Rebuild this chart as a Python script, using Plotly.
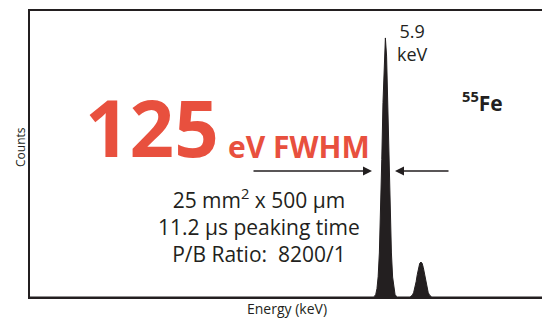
import plotly.graph_objects as go

# Spectrum (energy in keV, counts normalised to the 5.9 keV peak = 100)
energy_kev = [0.00, 5.70, 5.72, 5.74, 5.76, 5.78, 5.80, 5.82, 5.84, 5.86, 5.88, 5.90,
              5.92, 5.94, 5.96, 5.98, 6.00, 6.02, 6.04, 6.06, 6.08, 6.10,
              6.31, 6.33, 6.35, 6.37, 6.39, 6.41, 6.43, 6.45, 6.47, 6.49,
              6.51, 6.53, 6.55, 6.57, 6.59, 6.61, 6.63, 6.65, 6.67, 8.50]
counts = [0.0, 0.0, 0.3, 1.0, 3.2, 7.9, 17.0, 32.0, 53.0, 75.0, 93.0, 100.0,
          93.0, 75.0, 53.0, 32.0, 17.0, 7.7, 3.0, 1.0, 0.3, 0.0,
          0.0, 0.3, 0.8, 1.8, 3.5, 5.9, 8.7, 11.3, 13.0, 13.5,
          13.0, 11.3, 8.7, 5.9, 3.5, 1.8, 0.8, 0.3, 0.0, 0.0]

x_range = [0.0, 8.5]
y_range = [0.0, 110.4]

DARK = "#231f20"
RED = "#e8503e"
FONT = "Open Sans"

fig = go.Figure()
fig.add_trace(go.Scatter(
    x=energy_kev, y=counts, mode="lines",
    line=dict(color=DARK, width=1),
    fill="tozeroy", fillcolor=DARK,
    hoverinfo="skip", showlegend=False,
))

fig.update_layout(
    width=542, height=321,
    margin=dict(l=30, r=0, t=11, b=24),
    paper_bgcolor="white", plot_bgcolor="white",
    showlegend=False,
    font=dict(family=FONT, color=DARK),
    xaxis=dict(range=x_range, showline=True, mirror=True, linecolor=DARK, linewidth=2,
               showgrid=False, zeroline=False, showticklabels=False, ticks=""),
    yaxis=dict(range=y_range, showline=True, mirror=False, linecolor=DARK, linewidth=2,
               showgrid=False, zeroline=False, showticklabels=False, ticks=""),
)

PW, PH = 512, 286
def px(xp):
    return (xp - 30) / PW
def py(yp):
    return (297 - yp) / PH

def label(text, xc, yc, size, bold=False, color=DARK, **kw):
    fig.add_annotation(text=f"<b>{text}</b>" if bold else text, x=px(xc), y=py(yc),
                       xref="paper", yref="paper", showarrow=False,
                       xanchor=kw.pop("xanchor", "center"), yanchor=kw.pop("yanchor", "middle"),
                       font=dict(size=size, color=color, family=FONT), **kw)

label("Counts", 20, 147, 12, textangle=-90)
label("Energy (keV)", 287, 308, 14)

label("125", 221, 158, 78, bold=True, color=RED, xanchor="right", yanchor="bottom", yshift=-24)
label("eV FWHM", 226, 158, 30, bold=True, color=RED, xanchor="left", yanchor="bottom", yshift=-11)

label("25 mm<sup>2</sup> x 500 µm<br>11.2 µs peaking time<br>P/B Ratio:  8200/1", 259, 225, 21,
      align="center")

label("5.9<br>keV", 412, 42, 18, align="center")
label("<sup>55</sup>Fe", 482, 101, 21, bold=True)

# arrows pointing at the peak width
fig.add_annotation(x=px(372), y=py(171), ax=-120, ay=0, xref="paper", yref="paper",
                   axref="pixel", ayref="pixel", text="", showarrow=True, arrowhead=2,
                   arrowsize=1.2, arrowwidth=1.5, arrowcolor=DARK)
fig.add_annotation(x=px(395), y=py(171), ax=55, ay=0, xref="paper", yref="paper",
                   axref="pixel", ayref="pixel", text="", showarrow=True, arrowhead=2,
                   arrowsize=1.2, arrowwidth=1.5, arrowcolor=DARK)

fig.write_html("out.html")
